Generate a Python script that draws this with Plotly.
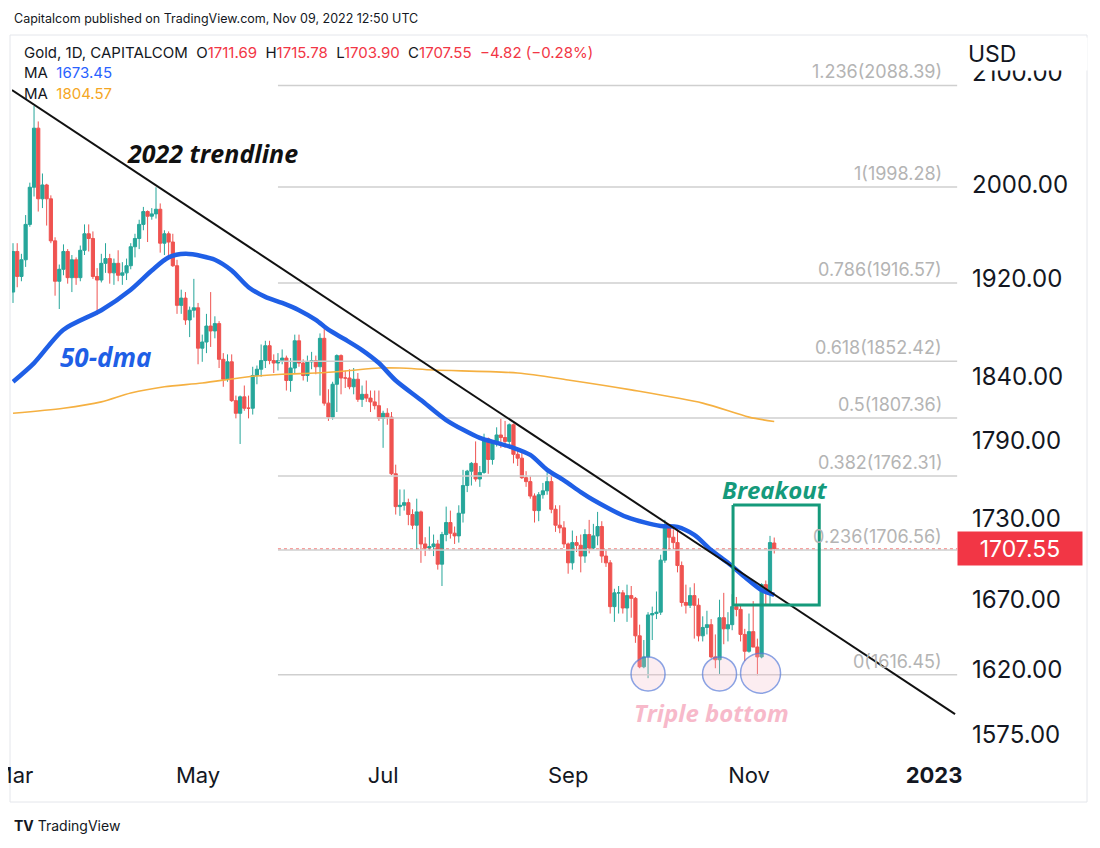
import math

import pandas as pd
import plotly.graph_objects as go

# daily candles, (open, high, low, close), one list per month
ohlc_mar = [
    (1909, 1950, 1900, 1943), (1943, 1950, 1913, 1922), (1922, 1941, 1918, 1936), (1936, 1974, 1930, 1966),
    (1966, 2002, 1964, 1998), (1998, 2070, 1990, 2050), (2050, 2056, 1977, 1988), (1988, 2010, 1980, 2000),
    (2000, 2001, 1965, 1988), (1988, 1991, 1950, 1952), (1952, 1955, 1906, 1918), (1918, 1932, 1895, 1928),
    (1928, 1949, 1923, 1943), (1943, 1945, 1916, 1921), (1921, 1940, 1909, 1936), (1936, 1938, 1915, 1921),
    (1921, 1948, 1918, 1944), (1944, 1966, 1940, 1958), (1958, 1966, 1943, 1954), (1954, 1960, 1920, 1922),
    (1922, 1929, 1890, 1919), (1919, 1941, 1917, 1933), (1933, 1950, 1925, 1937),
]
ohlc_apr = [
    (1937, 1941, 1916, 1925), (1925, 1937, 1915, 1933), (1933, 1944, 1918, 1923), (1923, 1934, 1915, 1925),
    (1925, 1937, 1919, 1931), (1931, 1950, 1928, 1947), (1947, 1958, 1938, 1954), (1954, 1970, 1945, 1966),
    (1966, 1981, 1961, 1977), (1977, 1978, 1951, 1973), (1973, 1980, 1970, 1975), (1975, 1998, 1971, 1979),
    (1979, 1984, 1942, 1950), (1950, 1961, 1940, 1958), (1958, 1960, 1940, 1951), (1951, 1958, 1930, 1931),
    (1931, 1936, 1891, 1898), (1898, 1911, 1891, 1904), (1904, 1909, 1882, 1886), (1886, 1897, 1872, 1894),
    (1894, 1920, 1888, 1896),
]
ohlc_may = [
    (1896, 1900, 1850, 1863), (1863, 1874, 1852, 1868), (1868, 1891, 1859, 1881), (1881, 1909, 1864, 1877),
    (1877, 1889, 1871, 1883), (1883, 1885, 1847, 1854), (1854, 1859, 1832, 1838), (1838, 1858, 1836, 1852),
    (1852, 1858, 1820, 1821), (1821, 1825, 1807, 1811), (1811, 1825, 1787, 1824), (1824, 1833, 1813, 1815),
    (1815, 1825, 1807, 1815), (1815, 1848, 1810, 1841), (1841, 1849, 1834, 1846), (1846, 1866, 1840, 1853),
    (1853, 1869, 1847, 1865), (1865, 1869, 1850, 1853), (1853, 1858, 1843, 1851), (1851, 1859, 1845, 1853),
    (1853, 1862, 1850, 1855), (1855, 1857, 1829, 1837),
]
ohlc_jun = [
    (1837, 1855, 1828, 1847), (1847, 1874, 1843, 1869), (1869, 1874, 1848, 1851), (1851, 1854, 1837, 1841),
    (1841, 1857, 1836, 1852), (1852, 1860, 1846, 1853), (1853, 1857, 1842, 1848), (1848, 1875, 1825, 1871),
    (1871, 1879, 1817, 1819), (1819, 1830, 1805, 1808), (1808, 1836, 1806, 1834), (1834, 1858, 1812, 1857),
    (1857, 1858, 1826, 1839), (1839, 1845, 1831, 1839), (1839, 1846, 1830, 1832), (1832, 1847, 1826, 1838),
    (1838, 1843, 1820, 1822), (1822, 1833, 1816, 1826), (1826, 1837, 1820, 1823), (1823, 1829, 1812, 1820),
    (1820, 1829, 1814, 1817), (1817, 1829, 1805, 1807),
]
ohlc_jul = [
    (1807, 1813, 1784, 1811), (1811, 1815, 1802, 1808), (1808, 1812, 1763, 1764), (1764, 1771, 1733, 1739),
    (1739, 1752, 1732, 1740), (1740, 1752, 1736, 1742), (1742, 1745, 1725, 1733), (1733, 1737, 1722, 1725),
    (1725, 1745, 1707, 1735), (1735, 1736, 1697, 1711), (1711, 1716, 1702, 1708), (1708, 1724, 1706, 1709),
    (1709, 1718, 1702, 1711), (1711, 1714, 1692, 1696), (1696, 1720, 1680, 1718), (1718, 1739, 1713, 1727),
    (1727, 1736, 1715, 1719), (1719, 1724, 1711, 1717), (1717, 1740, 1712, 1734), (1734, 1767, 1727, 1755),
    (1755, 1767, 1750, 1766),
]
ohlc_aug = [
    (1766, 1773, 1755, 1772), (1772, 1789, 1758, 1760), (1760, 1770, 1754, 1765), (1765, 1795, 1764, 1791),
    (1791, 1792, 1764, 1775), (1775, 1790, 1771, 1789), (1789, 1800, 1785, 1794), (1794, 1807, 1784, 1792),
    (1792, 1805, 1784, 1789), (1789, 1803, 1784, 1802), (1802, 1803, 1772, 1779), (1779, 1783, 1770, 1776),
    (1776, 1782, 1760, 1761), (1761, 1766, 1754, 1758), (1758, 1762, 1745, 1747), (1747, 1749, 1727, 1736),
    (1736, 1750, 1728, 1748), (1748, 1757, 1745, 1751), (1751, 1765, 1748, 1758), (1758, 1765, 1734, 1737),
    (1737, 1740, 1720, 1725), (1725, 1740, 1719, 1723), (1723, 1728, 1708, 1711),
]
ohlc_sep = [
    (1711, 1712, 1689, 1697), (1697, 1721, 1692, 1712), (1712, 1717, 1705, 1710), (1710, 1718, 1690, 1702),
    (1702, 1722, 1697, 1718), (1718, 1729, 1704, 1708), (1708, 1726, 1707, 1717), (1717, 1735, 1710, 1724),
    (1724, 1728, 1697, 1702), (1702, 1707, 1694, 1697), (1697, 1699, 1660, 1665), (1665, 1678, 1654, 1675),
    (1675, 1680, 1660, 1675), (1675, 1677, 1660, 1664), (1664, 1681, 1654, 1673), (1673, 1680, 1657, 1671),
    (1671, 1672, 1639, 1644), (1644, 1652, 1621, 1622), (1622, 1641, 1621, 1629), (1629, 1661, 1614, 1659),
    (1659, 1665, 1641, 1660), (1660, 1676, 1656, 1661),
]
ohlc_oct = [
    (1661, 1703, 1659, 1699), (1699, 1729, 1697, 1725), (1725, 1726, 1706, 1716), (1716, 1722, 1707, 1712),
    (1712, 1722, 1690, 1695), (1695, 1698, 1665, 1668), (1668, 1681, 1660, 1666), (1666, 1679, 1664, 1673),
    (1673, 1682, 1642, 1666), (1666, 1671, 1640, 1644), (1644, 1658, 1640, 1650), (1650, 1662, 1645, 1652),
    (1652, 1656, 1628, 1629), (1629, 1645, 1621, 1627), (1627, 1670, 1617, 1657), (1657, 1675, 1638, 1649),
    (1649, 1661, 1640, 1652), (1652, 1674, 1648, 1665), (1665, 1672, 1658, 1663), (1663, 1666, 1640, 1645),
    (1645, 1649, 1626, 1633),
]
ohlc_nov = [
    (1633, 1660, 1632, 1647), (1647, 1669, 1637, 1636), (1636, 1642, 1616, 1629), (1629, 1682, 1628, 1681),
    (1681, 1684, 1666, 1676), (1676, 1717, 1667, 1712), (1711.69, 1715.78, 1703.90, 1707.55),
]
month_spans = [
    ("2022-03-01", "2022-03-31", ohlc_mar), ("2022-04-01", "2022-04-30", ohlc_apr),
    ("2022-05-01", "2022-05-31", ohlc_may), ("2022-06-01", "2022-06-30", ohlc_jun),
    ("2022-07-01", "2022-07-31", ohlc_jul), ("2022-08-01", "2022-08-31", ohlc_aug),
    ("2022-09-01", "2022-09-30", ohlc_sep), ("2022-10-01", "2022-10-31", ohlc_oct),
    ("2022-11-01", "2022-11-09", ohlc_nov),
]

# 50-day MA (blue)
ma50_dates = ["2022-03-01", "2022-03-08", "2022-03-17", "2022-03-30", "2022-04-08", "2022-04-15",
              "2022-04-21", "2022-04-27", "2022-05-03", "2022-05-06", "2022-05-12", "2022-05-18",
              "2022-05-24", "2022-05-30", "2022-06-03", "2022-06-09", "2022-06-14", "2022-06-20",
              "2022-06-24", "2022-06-30", "2022-07-06", "2022-07-14", "2022-07-22", "2022-08-03",
              "2022-08-09", "2022-08-15", "2022-08-19", "2022-08-25", "2022-08-31", "2022-09-06",
              "2022-09-09", "2022-09-21", "2022-10-03", "2022-10-07", "2022-10-13", "2022-10-19",
              "2022-10-25", "2022-10-31", "2022-11-04", "2022-11-09"]
ma50_vals = [1836, 1851, 1878, 1894, 1911, 1927, 1938, 1941, 1939, 1936, 1927, 1913,
             1905, 1900, 1894, 1886, 1878, 1870, 1861.5, 1851, 1837, 1821.5, 1805.7, 1791.7,
             1787.8, 1784, 1778.5, 1767, 1759, 1750, 1744, 1731, 1724.4, 1723.7, 1717.7, 1706.5,
             1697, 1686.6, 1677, 1673.45]

# 200-day MA (orange)
ma200_dates = ["2022-03-01", "2022-03-17", "2022-03-30", "2022-04-08", "2022-04-20", "2022-05-03",
               "2022-05-18", "2022-05-30", "2022-06-09", "2022-06-20", "2022-06-30", "2022-07-07",
               "2022-07-19", "2022-08-16", "2022-09-01", "2022-09-22", "2022-10-17", "2022-11-01",
               "2022-11-09"]
ma200_vals = [1811, 1815, 1820, 1827, 1832, 1835, 1840, 1842, 1843, 1844.6, 1847, 1847,
              1845.4, 1843, 1837.4, 1829.5, 1819, 1808, 1804.57]

fib_ratio = ["1.236", "1", "0.786", "0.618", "0.5", "0.382", "0.236", "0"]
fib_price = [2088.39, 1998.28, 1916.57, 1852.42, 1807.36, 1762.31, 1706.56, 1616.45]
fib_span = ["2022-05-27", "2023-01-09 12:00"]

trend_dates = ["2022-02-28 18:00", "2023-01-09"]
trend_price = [2084.3, 1589.0]

bottom_dates = ["2022-09-28", "2022-10-21", "2022-11-03 18:00"]
bottom_price = [1617, 1617, 1617.5]
bottom_size = [34, 34, 40]

box_dates = ["2022-10-26 05:00", "2022-11-23 17:00"]
box_price = [1666.2, 1740.2]

last_price = 1707.55
y_ticks = [1575, 1620, 1670, 1730, 1790, 1840, 1920, 2000, 2100]
x_ticks = ["2022-03-01", "2022-05-02", "2022-07-01", "2022-09-01", "2022-11-01", "2023-01-02"]
x_labels = ["Mar", "May", "Jul", "Sep", "Nov", "<b>2023</b>"]

UP, DOWN = "#26a69a", "#ef5350"
GREEN = "#159a7b"
FONT = "Inter, Roboto, sans-serif"
DRAW_FONT = "Open Sans, sans-serif"

# plot area in screen pixels: x 12..958, y 40..760 (page has an 8px body margin)
L, R, T, B = 12, 958, 40, 760
PAGE = 8


def px(x):
    return (x - L) / (R - L)


def py(y):
    return (B - y) / (B - T)


dates, rows = [], []
for start, end, data in month_spans:
    days = pd.bdate_range(start, end)
    assert len(days) == len(data), (start, len(days), len(data))
    dates += list(days)
    rows += data
opens = [r[0] for r in rows]
highs = [r[1] for r in rows]
lows = [r[2] for r in rows]
closes = [r[3] for r in rows]

fig = go.Figure()

for p in fib_price:
    fig.add_trace(go.Scatter(
        x=fib_span, y=[p, p], mode="lines",
        line=dict(color="#cfcfcf", width=1.5), hoverinfo="skip", showlegend=False,
    ))
fig.add_trace(go.Scatter(
    x=fib_span, y=[last_price, last_price], mode="lines",
    line=dict(color="rgba(239,83,80,0.55)", width=1.2, dash="dot"), hoverinfo="skip", showlegend=False,
))

fig.add_trace(go.Scatter(
    x=ma200_dates, y=ma200_vals, mode="lines",
    line=dict(color="#f5b041", width=1.6, shape="spline", smoothing=0.8), showlegend=False,
))

fig.add_trace(go.Candlestick(
    x=dates, open=opens, high=highs, low=lows, close=closes,
    increasing=dict(line=dict(color=UP, width=1), fillcolor=UP),
    decreasing=dict(line=dict(color=DOWN, width=1), fillcolor=DOWN),
    showlegend=False,
))

fig.add_trace(go.Scatter(
    x=ma50_dates, y=ma50_vals, mode="lines",
    line=dict(color="#1f5fe6", width=4.5, shape="spline", smoothing=0.8), showlegend=False,
))

fig.add_trace(go.Scatter(
    x=trend_dates, y=trend_price, mode="lines",
    line=dict(color="#111111", width=2), hoverinfo="skip", showlegend=False,
))

fig.add_trace(go.Scatter(
    x=[box_dates[0], box_dates[1], box_dates[1], box_dates[0], box_dates[0]],
    y=[box_price[1], box_price[1], box_price[0], box_price[0], box_price[1]],
    mode="lines", line=dict(color=GREEN, width=3), hoverinfo="skip", showlegend=False,
))

fig.add_trace(go.Scatter(
    x=bottom_dates, y=bottom_price, mode="markers",
    marker=dict(size=bottom_size, color="rgba(248,190,205,0.38)",
                line=dict(color="#5a7bd8", width=1.5)),
    hoverinfo="skip", showlegend=False,
))

annotations = []
for ratio, p in zip(fib_ratio, fib_price):
    annotations.append(dict(
        xref="paper", yref="y", x=px(944), y=math.log10(p), xanchor="right", yanchor="bottom",
        yshift=1, text=f"{ratio}({p:.2f})", showarrow=False,
        font=dict(family=FONT, size=18, color="#b4b4b4"),
    ))

red = "#f23645"
legend_line = (
    "Gold, 1D, CAPITALCOM\u00a0\u00a0"
    f"O<span style='color:{red}'>1711.69</span>\u00a0\u00a0"
    f"H<span style='color:{red}'>1715.78</span>\u00a0\u00a0"
    f"L<span style='color:{red}'>1703.90</span>\u00a0\u00a0"
    f"C<span style='color:{red}'>1707.55</span>\u00a0\u00a0"
    f"<span style='color:{red}'>\u22124.82 (\u22120.28%)</span>"
)
annotations += [
    dict(xref="paper", yref="paper", x=px(12), y=py(18), xanchor="left", yanchor="middle",
         text="Capitalcom published on TradingView.com, Nov 09, 2022 12:50 UTC", showarrow=False,
         font=dict(family=FONT, size=12.5, color="#131722")),
    dict(xref="paper", yref="paper", x=px(22), y=py(52), xanchor="left", yanchor="middle",
         text=legend_line, showarrow=False, font=dict(family=FONT, size=15, color="#131722")),
    dict(xref="paper", yref="paper", x=px(22), y=py(73), xanchor="left", yanchor="middle",
         text="MA\u00a0\u00a0<span style='color:#2962ff'>1673.45</span>", showarrow=False,
         font=dict(family=FONT, size=15, color="#131722")),
    dict(xref="paper", yref="paper", x=px(22), y=py(94), xanchor="left", yanchor="middle",
         text="MA\u00a0\u00a0<span style='color:#f5a623'>1804.57</span>", showarrow=False,
         font=dict(family=FONT, size=15, color="#131722")),
    dict(xref="paper", yref="paper", x=px(212), y=py(153), xanchor="center", yanchor="middle",
         text="<b><i>2022 trendline</i></b>", showarrow=False,
         font=dict(family=DRAW_FONT, size=25, color="#111111")),
    dict(xref="paper", yref="paper", x=px(105), y=py(357), xanchor="center", yanchor="middle",
         text="<b><i>50-dma</i></b>", showarrow=False,
         font=dict(family=DRAW_FONT, size=26, color="#1f5fe6")),
    dict(xref="paper", yref="paper", x=px(775), y=py(489), xanchor="center", yanchor="middle",
         text="<b><i>Breakout</i></b>", showarrow=False,
         font=dict(family=DRAW_FONT, size=24, color=GREEN)),
    dict(xref="paper", yref="paper", x=px(711), y=py(712), xanchor="center", yanchor="middle",
         text="<b><i>Triple bottom</i></b>", showarrow=False,
         font=dict(family=DRAW_FONT, size=24, color="#f7b9ca")),
    dict(xref="paper", yref="paper", x=px(966), y=py(37), xanchor="left", yanchor="top",
         text="USD", showarrow=False, bgcolor="white", width=118, height=30, align="left",
         font=dict(family=FONT, size=23, color="#131722")),
    dict(xref="paper", yref="y", x=px(957), y=math.log10(last_price), xanchor="left", yanchor="middle",
         text=f"{last_price:.2f}", showarrow=False, bgcolor=red, width=118, height=27, borderpad=3,
         font=dict(family=FONT, size=23, color="white")),
    dict(xref="paper", yref="paper", x=px(12), y=py(826), xanchor="left", yanchor="middle",
         text="<b>TV</b> TradingView", showarrow=False,
         font=dict(family=FONT, size=14, color="#131722")),
]

fig.update_layout(
    width=1100, height=848,
    margin=dict(l=L - PAGE, r=1100 - R + PAGE, t=T - PAGE, b=848 - B + PAGE),
    paper_bgcolor="white", plot_bgcolor="white",
    showlegend=False,
    boxgap=0.2, boxgroupgap=0.05,
    annotations=annotations,
    shapes=[dict(type="rect", xref="paper", yref="paper",
                 x0=px(10), x1=px(1087), y0=py(802), y1=py(35),
                 line=dict(color="#e4e6eb", width=1), layer="below")],
    xaxis=dict(
        type="date", rangeslider=dict(visible=False),
        rangebreaks=[dict(bounds=["sat", "mon"])],
        range=["2022-02-28 18:14", "2023-01-09 16:48"],
        tickvals=x_ticks, ticktext=x_labels, ticks="",
        ticklabeloverflow="allow", automargin=False,
        showgrid=False, zeroline=False, showline=False,
        tickfont=dict(family=FONT, size=22, color="#131722"),
    ),
    yaxis=dict(
        type="log", side="right", automargin=False,
        range=[math.log10(1557.6), math.log10(2130.1)],
        tickvals=y_ticks, ticktext=[f"{v:.2f}" for v in y_ticks], ticks="",
        ticklabelstandoff=13,
        showgrid=False, zeroline=False, showline=False,
        tickfont=dict(family=FONT, size=24, color="#131722"),
    ),
)

fig.write_html("out.html")
